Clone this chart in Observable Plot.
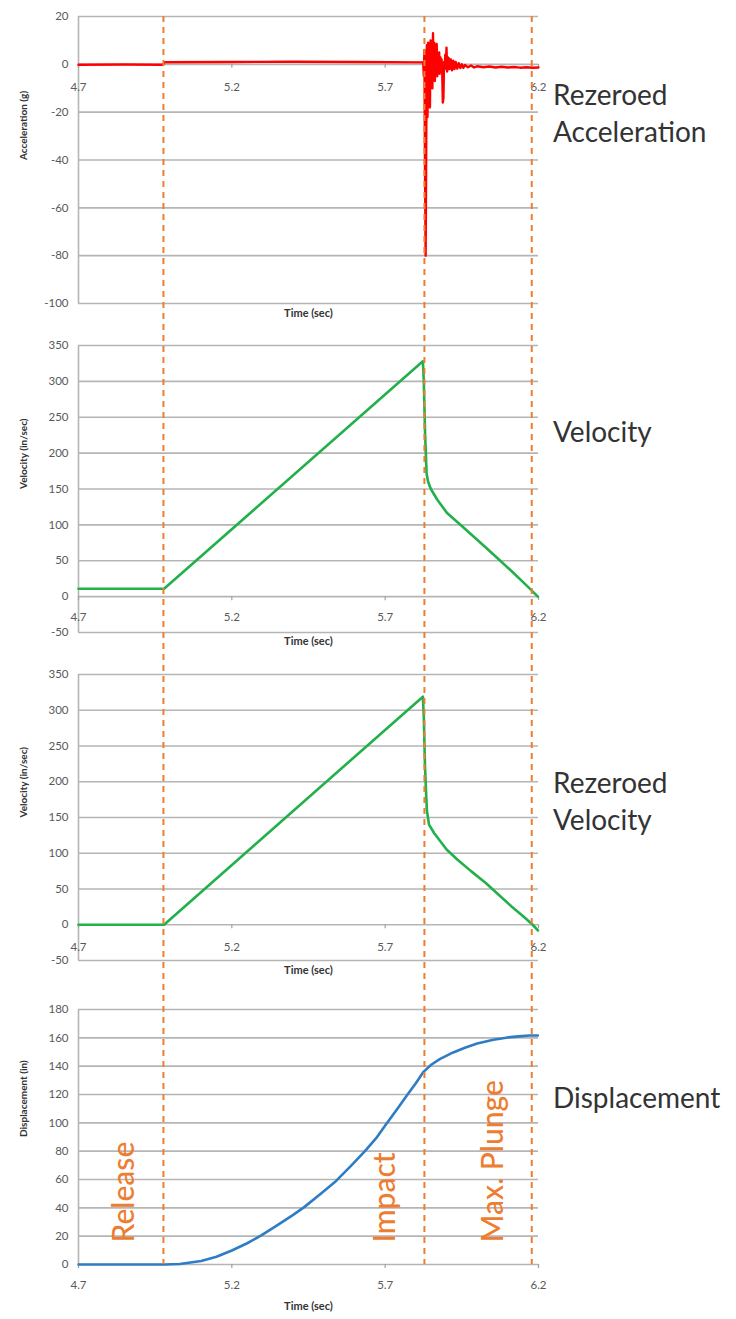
<!DOCTYPE html>
<html><head><meta charset="utf-8">
<script src="https://cdn.jsdelivr.net/npm/d3@7"></script>
<script src="https://cdn.jsdelivr.net/npm/@observablehq/plot@0.6"></script>
<style>
body{margin:0;background:#fff;}
#wrap{position:relative;width:736px;height:1319px;overflow:hidden;font-family:Lato,sans-serif;}
.panel{position:absolute;left:0;}
.side{position:absolute;left:553px;font-size:28px;color:#333;line-height:37px;font-family:Lato,sans-serif;white-space:nowrap;}
</style></head><body><div id="wrap"></div>
<script>
// ---- data ----
const xTicks = [4.7, 5.2, 5.7, 6.2];
const accelTicks = [20, 0, -20, -40, -60, -80, -100];
const velTicks = [350, 300, 250, 200, 150, 100, 50, 0, -50];
const dispTicks = [180, 160, 140, 120, 100, 80, 60, 40, 20, 0];

const eventTimes = [4.977, 5.828, 6.178];
const eventLabels = ["Release", "Impact", "Max. Plunge"];

const accelT = [4.700, 4.850, 4.976, 4.980, 5.200, 5.400, 5.600, 5.822, 5.824, 5.826, 5.828, 5.830, 5.832, 5.834, 5.836, 5.838,
  5.840, 5.842, 5.844, 5.846, 5.848, 5.850, 5.852, 5.854, 5.856, 5.858, 5.860, 5.862, 5.864, 5.866, 5.868, 5.870,
  5.872, 5.874, 5.876, 5.878, 5.880, 5.882, 5.884, 5.886, 5.888, 5.890, 5.892, 5.894, 5.896, 5.898, 5.900, 5.902,
  5.904, 5.906, 5.908, 5.910, 5.914, 5.918, 5.922, 5.926, 5.930, 5.935, 5.940, 5.945, 5.950, 5.955, 5.960, 5.970,
  5.980, 5.990, 6.000, 6.020, 6.040, 6.060, 6.080, 6.100, 6.120, 6.140, 6.160, 6.180, 6.200];
const accelG = [-0.2, -0.1, -0.2, 0.9, 1.0, 1.1, 1.0, 0.8, 1.0, -5, 6, -45, -80, -30, 8, -22,
  9, -12, 7, -18, 10, -8, 6, -10, 13, -6, 9, -7, 5, -4, 8.5, -5,
  4, -3, 5, -4, 3, -2, 2, -3, -16, -14, 1, -2, 4, -1, 7, -3,
  3, -2, 2.5, -2, 2, -2.5, 1.5, -2, 1, -1.8, 0.5, -1.5, 0, -1.5, -0.3, -1.2,
  -0.5, -1.3, -0.8, -1.2, -0.9, -1.3, -1.0, -1.3, -1.1, -1.4, -1.2, -1.4, -1.3];

const velT = [4.700, 4.979, 5.823, 5.826, 5.830, 5.835, 5.840, 5.849, 5.870, 5.901, 5.948, 5.990, 6.029, 6.070, 6.111, 6.160, 6.198];
const velV = [11, 11, 328, 300, 230, 172, 160, 150, 135, 117, 99, 83, 68, 52, 36, 16, 0];

const rvelT = [4.700, 4.979, 5.823, 5.826, 5.830, 5.836, 5.843, 5.860, 5.901, 5.936, 5.980, 6.029, 6.070, 6.111, 6.150, 6.181, 6.198];
const rvelV = [0, 0, 319, 290, 220, 160, 140, 128, 105, 91, 75, 58, 42, 26, 12, 0, -8];

const dispT = [4.700, 4.980, 5.030, 5.100, 5.150, 5.200, 5.250, 5.296, 5.350, 5.400, 5.436, 5.490, 5.540, 5.590, 5.634, 5.670,
  5.703, 5.740, 5.773, 5.800, 5.825, 5.850, 5.878, 5.920, 5.960, 6.000, 6.053, 6.100, 6.135, 6.170, 6.198];
const dispIn = [0, 0, 0.3, 2.5, 5.5, 9.9, 15, 20.5, 28, 35, 40.5, 50, 59, 70, 80, 89,
  99, 110, 120, 128, 136, 141, 145, 149.5, 153, 156, 158.6, 160.3, 161, 161.6, 161.6];

// ---- drawing ----
const wrap = document.getElementById("wrap");
const W = 545, ML = 78, MR = 7;
const GRID = "#b5b5b5", TICKTXT = "#595959", TITLE = "#333";

function panel(o) {
  const rows = o.t.map((t, i) => ({t, v: o.v[i]}));
  const svg = Plot.plot({
    width: W, height: o.height,
    marginLeft: ML, marginRight: MR, marginTop: o.mt, marginBottom: o.mb,
    x: {domain: [xTicks[0], xTicks[xTicks.length - 1]], axis: null},
    y: {domain: [o.yTicks[o.yTicks.length - 1], o.yTicks[0]], axis: null},
    style: {fontFamily: "Lato, sans-serif", background: "transparent", overflow: "visible"},
    marks: [
      Plot.gridY(o.yTicks, {stroke: GRID, strokeOpacity: 1, strokeWidth: 1.6}),
      Plot.ruleX([xTicks[0]], {stroke: GRID, strokeWidth: 1.6}),
      Plot.ruleX(xTicks, {x: d => d, y1: 0, y2: 0, insetBottom: -4, stroke: "#a0a0a0", strokeWidth: 1.2}),
      Plot.axisY(o.yTicks, {tickSize: 0, tickPadding: 10, fill: TICKTXT, fontSize: 11.5, label: null, tickFormat: d => String(d)}),
      Plot.text(xTicks, {x: d => d, y: 0, dy: o.tickDy, text: d => String(d), fill: TICKTXT, fontSize: 11.5}),
      Plot.text(["Time (sec)"], {frameAnchor: "bottom", dy: o.titleDy, fontWeight: "bold", fontSize: 11, fill: TITLE}),
      Plot.text([o.ylabel], {frameAnchor: "left", rotate: -90, dx: -55, fontWeight: "bold", fontSize: 10, fill: TITLE}),
      Plot.line(rows, {x: "t", y: "v", stroke: o.color, strokeWidth: o.sw || 2.6, strokeLinejoin: "round"})
    ]
  });
  svg.classList.add("panel");
  svg.style.top = o.top + "px";
  svg.style.position = "absolute";
  wrap.appendChild(svg);
}

panel({top: 0, height: 330, mt: 16, mb: 27, yTicks: accelTicks, t: accelT, v: accelG, color: "#ff0000",
  ylabel: "Acceleration (g)", tickDy: 23, titleDy: 13, sw: 2.4});
panel({top: 330, height: 330, mt: 15, mb: 28, yTicks: velTicks, t: velT, v: velV, color: "#22b04b",
  ylabel: "Velocity (in/sec)", tickDy: 21, titleDy: 12});
panel({top: 660, height: 330, mt: 14, mb: 30, yTicks: velTicks, t: rvelT, v: rvelV, color: "#22b04b",
  ylabel: "Velocity (in/sec)", tickDy: 23, titleDy: 13});
panel({top: 990, height: 329, mt: 19, mb: 55, yTicks: dispTicks, t: dispT, v: dispIn, color: "#2e7dc4",
  ylabel: "Displacement (in)", tickDy: 21, titleDy: 45});

// overlay with event lines and labels
const ov = Plot.plot({
  width: W, height: 1319, marginLeft: ML, marginRight: MR, marginTop: 16, marginBottom: 55,
  x: {domain: [xTicks[0], xTicks[xTicks.length - 1]], axis: null},
  style: {fontFamily: "Lato, sans-serif", background: "transparent", overflow: "visible"},
  marks: [
    Plot.ruleX(eventTimes, {stroke: "#ed7d31", strokeWidth: 2, strokeDasharray: "6,5"}),
    Plot.text(eventLabels, {x: (d, i) => eventTimes[i], frameAnchor: "bottom", rotate: -90, textAnchor: "start",
      dx: -29, dy: -22, fill: "#ed7d31", fontSize: 30, fontWeight: 500})
  ]
});
ov.style.position = "absolute"; ov.style.top = "0px"; ov.style.left = "0px"; ov.style.pointerEvents = "none";
wrap.appendChild(ov);

const sideLabels = [["Rezeroed", "Acceleration"], ["Velocity"], ["Rezeroed", "Velocity"], ["Displacement"]];
const sideTops = [76, 413, 764, 1079];
sideLabels.forEach((lines, i) => {
  const d = document.createElement("div");
  d.className = "side";
  d.style.top = sideTops[i] + "px";
  d.innerHTML = lines.join("<br>");
  wrap.appendChild(d);
});
</script>
</body></html>
